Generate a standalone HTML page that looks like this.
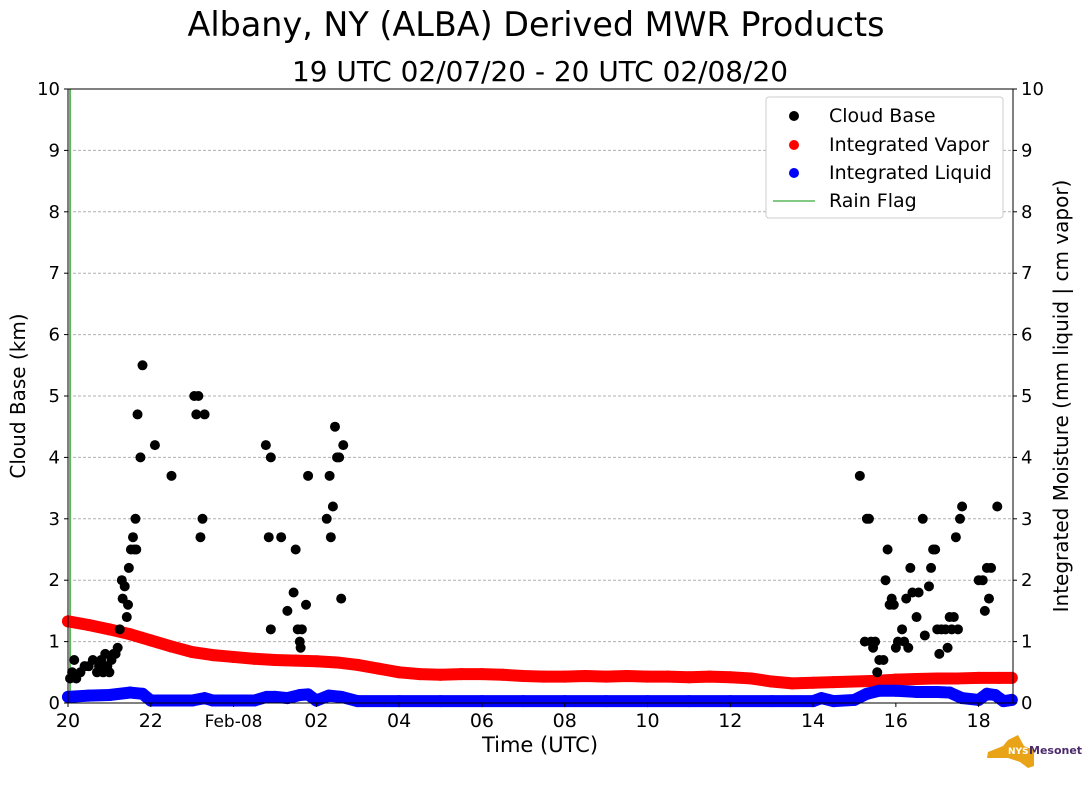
<!DOCTYPE html>
<html><head><meta charset="utf-8"><style>
body{margin:0;background:#fff;width:1089px;height:804px;overflow:hidden;font-family:"Liberation Sans","DejaVu Sans",sans-serif;}
svg text{font-family:"DejaVu Sans","Liberation Sans",sans-serif;}
</style></head><body>
<svg id="chart" width="1089" height="804">
<text x="536" y="36" font-size="34" text-anchor="middle" textLength="697" lengthAdjust="spacingAndGlyphs">Albany, NY (ALBA) Derived MWR Products</text>
<text x="540" y="81" font-size="28" text-anchor="middle" textLength="496" lengthAdjust="spacingAndGlyphs">19 UTC 02/07/20 - 20 UTC 02/08/20</text>
<g id="grid"></g><g id="marks"></g><g id="axes"></g>
<text transform="translate(25,396) rotate(-90)" font-size="20" text-anchor="middle">Cloud Base (km)</text>
<text transform="translate(1068,396) rotate(-90)" font-size="20" text-anchor="middle">Integrated Moisture (mm liquid | cm vapor)</text>
<text x="540" y="752" font-size="21" text-anchor="middle">Time (UTC)</text>
<g>
<rect x="766" y="97" width="237" height="121" rx="3" fill="#fff" stroke="#ccc"/>
<circle cx="794" cy="116" r="5" fill="#000"/><text x="829" y="122" font-size="19">Cloud Base</text>
<circle cx="794" cy="145" r="5" fill="#f00"/><text x="829" y="151" font-size="19">Integrated Vapor</text>
<circle cx="794" cy="173" r="5" fill="#00f"/><text x="829" y="179" font-size="19">Integrated Liquid</text>
<line x1="773" y1="201" x2="815" y2="201" stroke="#5cb85c" stroke-width="1.5"/><text x="829" y="207" font-size="19">Rain Flag</text>
</g>
<g>
<path d="M988 752 L1003 746 L1008 740 L1018 735 L1024 746 L1034 750 L1034 766 L1028 768 L1020 762 L1008 758 L987 758 Z" fill="#e8a317"/>
<text x="1008" y="754" font-size="9" font-weight="bold" fill="#fff">NYS</text>
<text x="1029" y="754" font-size="11" font-weight="bold" fill="#4b2a6b">Mesonet</text>
</g>
</svg>
<script>
const cbHours=[0.05,0.1,0.15,0.2,0.3,0.4,0.5,0.6,0.7,0.75,0.8,0.85,0.9,0.95,1.0,1.05,1.1,1.15,1.2,1.25,1.3,1.32,1.37,1.42,1.45,1.47,1.52,1.57,1.6,1.63,1.65,1.68,1.75,1.8,2.1,2.5,3.05,3.1,3.15,3.2,3.25,3.3,4.78,4.85,4.9,4.9,5.15,5.3,5.45,5.5,5.55,5.6,5.62,5.65,5.75,5.8,6.25,6.32,6.35,6.4,6.45,6.5,6.55,6.6,6.65,19.13,19.25,19.3,19.35,19.4,19.45,19.5,19.55,19.6,19.7,19.75,19.8,19.85,19.9,19.95,20.0,20.05,20.15,20.2,20.25,20.3,20.35,20.4,20.5,20.55,20.65,20.7,20.8,20.85,20.9,20.95,21.0,21.05,21.1,21.2,21.25,21.3,21.35,21.4,21.45,21.5,21.55,21.6,22.0,22.1,22.15,22.2,22.25,22.3,22.45];
const cbKm=[0.4,0.5,0.7,0.4,0.5,0.6,0.6,0.7,0.5,0.6,0.7,0.5,0.8,0.6,0.5,0.7,0.8,0.8,0.9,1.2,2.0,1.7,1.9,1.4,1.6,2.2,2.5,2.7,2.5,3.0,2.5,4.7,4.0,5.5,4.2,3.7,5.0,4.7,5.0,2.7,3.0,4.7,4.2,2.7,1.2,4.0,2.7,1.5,1.8,2.5,1.2,1.0,0.9,1.2,1.6,3.7,3.0,3.7,2.7,3.2,4.5,4.0,4.0,1.7,4.2,3.7,1.0,3.0,3.0,1.0,0.9,1.0,0.5,0.7,0.7,2.0,2.5,1.6,1.7,1.6,0.9,1.0,1.2,1.0,1.7,0.9,2.2,1.8,1.4,1.8,3.0,1.1,1.9,2.2,2.5,2.5,1.2,0.8,1.2,1.2,0.9,1.4,1.2,1.4,2.7,1.2,3.0,3.2,2.0,2.0,1.5,2.2,1.7,2.2,3.2];
const vapHours=[0,0.5,1,1.5,2,2.5,3,3.5,4,4.5,5,5.5,6,6.5,7,7.5,8,8.5,9,9.5,10,10.5,11,11.5,12,12.5,13,13.5,14,14.5,15,15.5,16,16.5,17,17.5,18,18.5,19,19.5,20,20.5,21,21.5,22,22.5,22.8];
const vapVals=[1.33,1.27,1.2,1.12,1.02,0.92,0.83,0.78,0.75,0.72,0.7,0.69,0.68,0.66,0.62,0.56,0.5,0.47,0.46,0.47,0.47,0.46,0.44,0.43,0.43,0.44,0.43,0.44,0.43,0.43,0.42,0.43,0.42,0.4,0.35,0.32,0.33,0.34,0.35,0.36,0.38,0.39,0.4,0.4,0.41,0.41,0.41];
const liqHours=[0,0.5,1,1.5,1.8,2,2.5,3,3.3,3.5,4,4.5,4.8,5,5.3,5.6,5.8,6,6.3,6.6,7,8,9,10,11,12,13,14,15,16,17,18,18.2,18.5,19,19.3,19.6,20,20.5,21,21.3,21.6,22,22.2,22.4,22.6,22.8];
const liqVals=[0.1,0.12,0.13,0.17,0.15,0.04,0.04,0.04,0.08,0.04,0.04,0.04,0.1,0.1,0.08,0.13,0.14,0.04,0.12,0.1,0.03,0.03,0.03,0.03,0.03,0.03,0.03,0.03,0.03,0.03,0.03,0.03,0.08,0.03,0.05,0.15,0.2,0.2,0.18,0.18,0.17,0.08,0.05,0.15,0.13,0.03,0.05];
const xTicks=[0,2,4,6,8,10,12,14,16,18,20,22];
const xTickLabels=["20","22","Feb-08","02","04","06","08","10","12","14","16","18"];
const yTicks=[0,1,2,3,4,5,6,7,8,9,10];
const rainHours=[0.05];
const X0=68,X1=1013,Y0=703,Y1=89,HMAX=22.83,VMAX=10;
const xs=h=>X0+h/HMAX*(X1-X0), ys=v=>Y0-v/VMAX*(Y0-Y1);
const NS="http://www.w3.org/2000/svg";
function mk(parent,tag,attrs){const e=document.createElementNS(NS,tag);for(const k in attrs)e.setAttribute(k,attrs[k]);document.getElementById(parent).appendChild(e);return e;}
yTicks.forEach((t,i)=>{
  if(t>0&&t<10){const g=mk('grid','line',{x1:X0,x2:X1,y1:ys(t),y2:ys(t),stroke:'#b0b0b0','stroke-dasharray':'3,2'});
  
  }
  [[X0-4,X0,'end',X0-8],[X1,X1+4,'start',X1+8]].forEach(([a,b,anc,tx])=>{
    mk('axes','line',{x1:a,x2:b,y1:ys(t),y2:ys(t),stroke:'#000'});
    const l=mk('axes','text',{x:tx,y:ys(t)+6,'font-size':18,'text-anchor':anc});l.textContent=t;
    
    
  });
});
xTicks.forEach((t,i)=>{
  mk('axes','line',{x1:xs(t),x2:xs(t),y1:Y0,y2:Y0+4,stroke:'#000'});
  const l=mk('axes','text',{x:xs(t),y:Y0+24,'font-size':i==2?17:19,'text-anchor':'middle'});l.textContent=xTickLabels[i];
  
  
});
const fr=mk('axes','rect',{x:X0,y:Y1,width:X1-X0,height:Y0-Y1,fill:'none',stroke:'#000','stroke-width':1});


rainHours.forEach(h=>{const r=mk('marks','line',{x1:xs(h),x2:xs(h),y1:Y1,y2:Y0,stroke:'#5cb85c','stroke-width':2});

});
function band(hs,vs,col,name){
  const p=mk('marks','polyline',{points:hs.map((h,i)=>xs(h)+','+ys(vs[i])).join(' '),fill:'none',stroke:col,'stroke-width':12,'stroke-linecap':'round','stroke-linejoin':'round'});
  
  
  hs.forEach((h,i)=>{const c=mk('marks','circle',{cx:xs(h),cy:ys(vs[i]),r:6,fill:col});
  
  });
}
band(vapHours,vapVals,'#f00','integrated-vapor');
band(liqHours,liqVals,'#00f','integrated-liquid');
cbHours.forEach((h,i)=>{const c=mk('marks','circle',{cx:xs(h),cy:ys(cbKm[i]),r:5,fill:'#000'});

});
</script>
</body></html>
